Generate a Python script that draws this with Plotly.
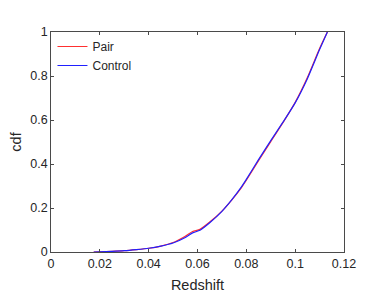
import plotly.graph_objects as go

redshift_pair = [0.0175, 0.02, 0.025, 0.03, 0.035, 0.04, 0.045, 0.05, 0.055, 0.058, 0.061, 0.065, 0.07, 0.074, 0.078, 0.08, 0.085, 0.09, 0.095, 0.1, 0.105, 0.11, 0.1132]
cdf_pair = [0.0, 0.001, 0.003, 0.006, 0.011, 0.017, 0.027, 0.043, 0.072, 0.093, 0.103, 0.136, 0.186, 0.236, 0.293, 0.326, 0.415, 0.502, 0.588, 0.68, 0.793, 0.925, 1.0]

redshift_control = [0.0175, 0.02, 0.025, 0.03, 0.035, 0.04, 0.045, 0.05, 0.055, 0.058, 0.061, 0.065, 0.07, 0.074, 0.078, 0.08, 0.085, 0.09, 0.095, 0.1, 0.105, 0.11, 0.1132]
cdf_control = [0.0, 0.001, 0.003, 0.006, 0.011, 0.017, 0.027, 0.041, 0.066, 0.087, 0.099, 0.133, 0.185, 0.237, 0.296, 0.33, 0.42, 0.506, 0.59, 0.678, 0.788, 0.92, 1.0]

x_ticks = [0, 0.02, 0.04, 0.06, 0.08, 0.1, 0.12]
x_labels = ["0", "0.02", "0.04", "0.06", "0.08", "0.1", "0.12"]
y_ticks = [0, 0.2, 0.4, 0.6, 0.8, 1]
y_labels = ["0", "0.2", "0.4", "0.6", "0.8", "1"]

font_family = "Liberation Sans, Arial, Helvetica, sans-serif"
text_color = "#262626"

fig = go.Figure()
fig.add_trace(go.Scatter(x=redshift_pair, y=cdf_pair, mode="lines", name="Pair",
                         line=dict(color="#ff3030", width=1.2, shape="spline", smoothing=0.6)))
fig.add_trace(go.Scatter(x=redshift_control, y=cdf_control, mode="lines", name="Control",
                         line=dict(color="#2020ff", width=1.2, shape="spline", smoothing=0.6)))

axis_common = dict(showline=True, linecolor="#4a4a4a", linewidth=0.8, mirror="ticks",
                   ticks="inside", ticklen=3, tickcolor="#4a4a4a", tickwidth=0.8,
                   showgrid=False, zeroline=False, automargin=False,
                   tickfont=dict(family=font_family, size=12.5, color=text_color))

fig.update_layout(
    width=374, height=297,
    margin=dict(l=43, r=38, t=24, b=53, autoexpand=False),
    paper_bgcolor="white", plot_bgcolor="white",
    font=dict(family=font_family, color=text_color),
    xaxis=dict(range=[0, 0.12], tickvals=x_ticks, ticktext=x_labels,
               title=dict(text="Redshift", font=dict(size=14.5, family=font_family, color=text_color), standoff=9),
               **axis_common),
    yaxis=dict(range=[0, 1], tickvals=y_ticks, ticktext=y_labels,
               title=dict(text="cdf", font=dict(size=14.5, family=font_family, color=text_color), standoff=15),
               **axis_common),
    legend=dict(x=0.005, y=1.0, xanchor="left", yanchor="top", bgcolor="rgba(0,0,0,0)",
                borderwidth=0, font=dict(size=12, family=font_family, color=text_color),
                tracegroupgap=0, itemwidth=30),
    showlegend=True,
)

fig.write_html("out.html")
